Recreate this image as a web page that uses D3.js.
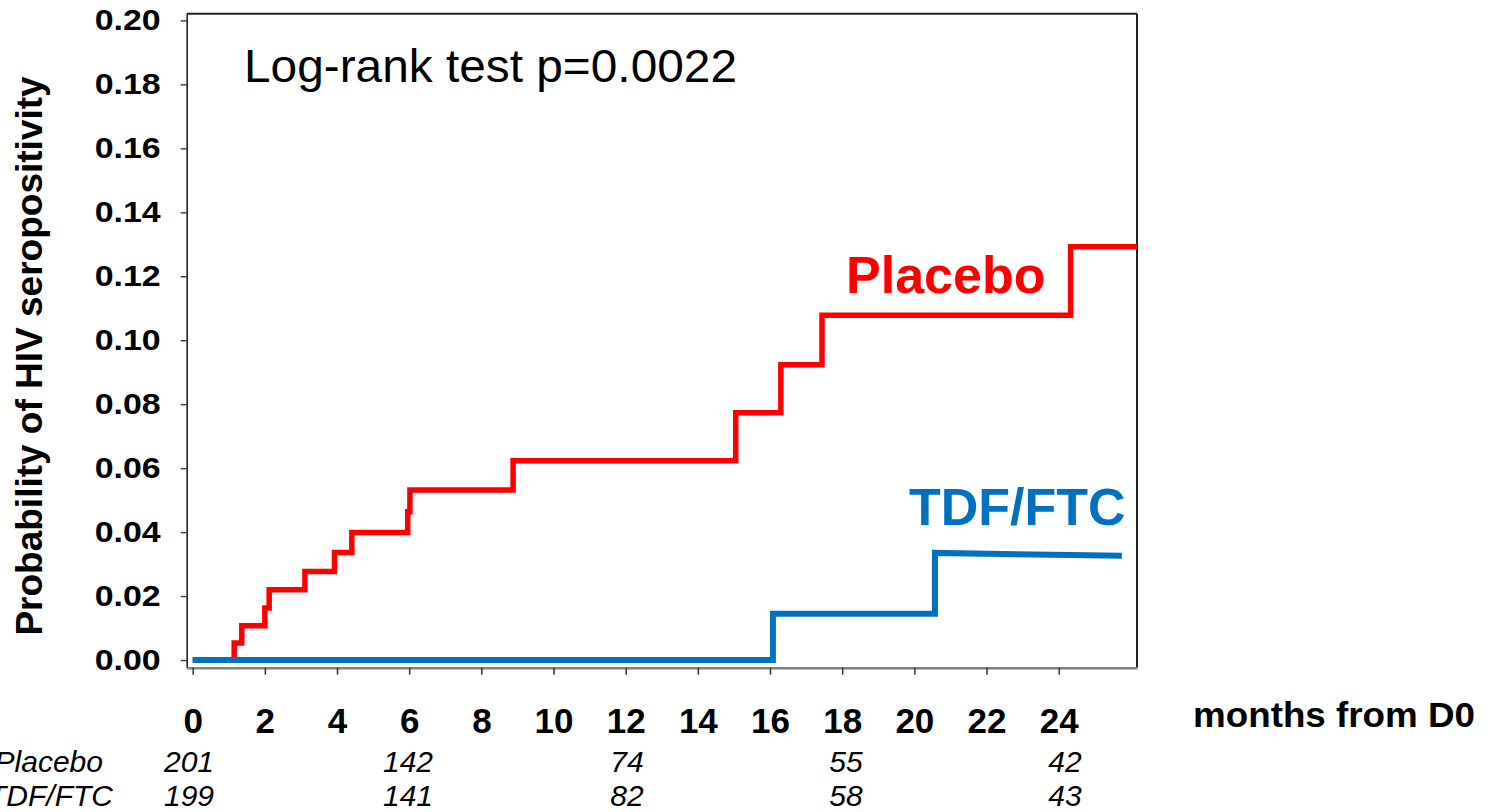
<!DOCTYPE html>
<html><head><meta charset="utf-8">
<script src="https://cdn.jsdelivr.net/npm/d3@7"></script>
<style>html,body{margin:0;padding:0;background:#fff;} svg{display:block;font-family:"Liberation Sans",Arial,sans-serif;}</style>
</head><body><svg id="c" width="1488" height="812"></svg>
<script>
// ---- data ----
const xTickValues = [0, 2, 4, 6, 8, 10, 12, 14, 16, 18, 20, 22, 24];
const yTickValues = [0, 0.02, 0.04, 0.06, 0.08, 0.10, 0.12, 0.14, 0.16, 0.18, 0.20];
const placeboTimes  = [1.15, 1.36, 2.00, 2.12, 3.11, 3.93, 4.41, 5.96, 6.02, 8.88, 15.05, 16.30, 17.44, 24.33];
const placeboValues = [0.0053, 0.0107, 0.0163, 0.0220, 0.0277, 0.0336, 0.0399, 0.0464, 0.0532, 0.0623, 0.0773, 0.0923, 0.1078, 0.1292];
const placeboEnd = [26.17, 0.1292];
const tdfTimes  = [16.08, 20.57];
const tdfValues = [0.0145, 0.0335];
const tdfEnd = [25.75, 0.0326];
const riskMonths  = [0, 6, 12, 18, 24];
const riskPlacebo = [201, 142, 74, 55, 42];
const riskTdf     = [199, 141, 82, 58, 43];
const groupNames  = ["Placebo", "TDF/FTC"];

// ---- setup ----
const svg = d3.select("#c");
svg.append("rect").attr("width", 1488).attr("height", 812).attr("fill", "#fff");
const x = d3.scaleLinear().domain([-0.166, 26.17]).range([186.7, 1137]);
const y = d3.scaleLinear().domain([-0.0024, 0.2021]).range([667.7, 13.7]);

// frame: top and right
svg.append("line").attr("x1", 186.7).attr("x2", 1137).attr("y1", 13.7).attr("y2", 13.7)
  .attr("stroke", "#222").attr("stroke-width", 2);
svg.append("line").attr("x1", 1137).attr("x2", 1137).attr("y1", 13.7).attr("y2", 667.7)
  .attr("stroke", "#222").attr("stroke-width", 2);

// y axis
const ya = svg.append("g").attr("transform", "translate(186.7,0)")
  .call(d3.axisLeft(y).tickValues(yTickValues).tickSize(6).tickSizeOuter(0).tickPadding(20)
    .tickFormat(d3.format(".2f")));
ya.select(".domain").attr("stroke", "#222").attr("stroke-width", 1.6);
ya.selectAll(".tick line").attr("stroke", "#444").attr("stroke-width", 1.5);
ya.selectAll(".tick text").attr("font-size", 29).attr("font-weight", "bold")
  .attr("textLength", 66).attr("lengthAdjust", "spacingAndGlyphs")
  .attr("font-family", "Liberation Sans, Arial, sans-serif").attr("fill", "#000");

// x axis
const xa = svg.append("g").attr("transform", "translate(0,667.7)")
  .call(d3.axisBottom(x).tickValues(xTickValues).tickSize(7).tickSizeOuter(0));
xa.select(".domain").attr("stroke", "#808080").attr("stroke-width", 2.5);
xa.selectAll(".tick line").attr("stroke", "#333").attr("stroke-width", 1.5);
xa.selectAll(".tick text").attr("y", 65).attr("dy", 0).attr("font-size", 35).attr("font-weight", "bold")
  .attr("font-family", "Liberation Sans, Arial, sans-serif").attr("fill", "#000");

svg.append("text").attr("x", 1193).attr("y", 727).attr("font-size", 35).attr("font-weight", "bold")
  .attr("textLength", 282).attr("lengthAdjust", "spacingAndGlyphs")
  .text("months from D0");

// y title
svg.append("text").attr("transform", "translate(42,356) rotate(-90)").attr("text-anchor", "middle")
  .attr("font-size", 37).attr("font-weight", "bold").text("Probability of HIV seropositivity");

// log-rank
svg.append("text").attr("x", 244).attr("y", 82).attr("font-size", 47)
  .attr("textLength", 493).attr("lengthAdjust", "spacingAndGlyphs").text("Log-rank test p=0.0022");

// curves
function stepVertices(times, values, end) {
  const pts = [[0, 0]];
  let prev = 0;
  times.forEach((t, i) => { pts.push([t, prev]); pts.push([t, values[i]]); prev = values[i]; });
  pts.push(end);
  return pts;
}
const line = d3.line().x(d => x(d[0])).y(d => y(d[1]));
svg.append("path").attr("d", line(stepVertices(placeboTimes, placeboValues, placeboEnd)))
  .attr("fill", "none").attr("stroke", "#FF0000").attr("stroke-width", 5.5);
svg.append("path").attr("d", line(stepVertices(tdfTimes, tdfValues, tdfEnd)))
  .attr("fill", "none").attr("stroke", "#0070C0").attr("stroke-width", 6);

// curve labels
svg.append("text").attr("x", 846).attr("y", 293).attr("font-size", 52).attr("font-weight", "bold")
  .attr("fill", "#FF0000").text("Placebo");
svg.append("text").attr("x", 909).attr("y", 525).attr("font-size", 52).attr("font-weight", "bold")
  .attr("fill", "#0070C0").text("TDF/FTC");

// numbers at risk
const rx = d3.scaleLinear().domain([0, 24]).range([189, 1065]);
const rows = [riskPlacebo, riskTdf];
const rowY = [772, 806];
const rowLabelX = [103, 113];
rows.forEach((vals, r) => {
  svg.append("text").attr("x", rowLabelX[r]).attr("y", rowY[r]).attr("text-anchor", "end")
    .attr("font-size", 30).attr("font-style", "italic").text(groupNames[r]);
  svg.selectAll(null).data(vals).enter().append("text")
    .attr("x", (d, i) => rx(riskMonths[i])).attr("y", rowY[r]).attr("text-anchor", "middle")
    .attr("font-size", 30).attr("font-style", "italic").text(d => d);
});
</script></body></html>
